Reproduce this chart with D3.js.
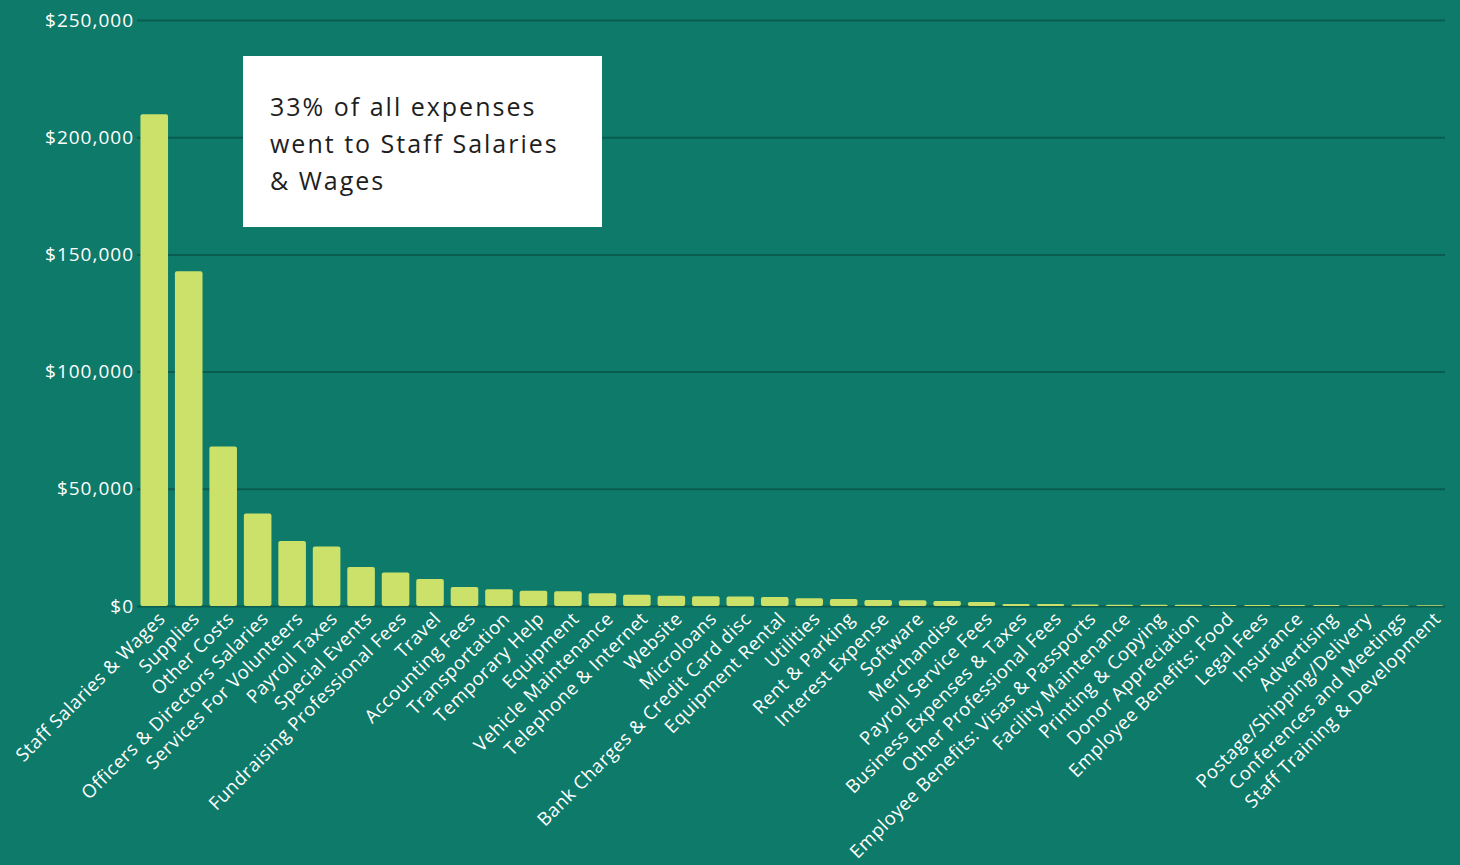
<!DOCTYPE html>
<html><head><meta charset="utf-8">
<script src="https://cdn.jsdelivr.net/npm/d3@7"></script>
<style>
html,body{margin:0;padding:0;background:#0e7a6a;}
svg{display:block;}
</style></head>
<body>
<svg id="chart" width="1460" height="865"></svg>
<script>
const categories = ["Staff Salaries & Wages","Supplies","Other Costs","Officers & Directors Salaries","Services For Volunteers","Payroll Taxes","Special Events","Fundraising Professional Fees","Travel","Accounting Fees","Transportation","Temporary Help","Equipment","Vehicle Maintenance","Telephone & Internet","Website","Microloans","Bank Charges & Credit Card disc","Equipment Rental","Utilities","Rent & Parking","Interest Expense","Software","Merchandise","Payroll Service Fees","Business Expenses & Taxes","Other Professional Fees","Employee Benefits: Visas & Passports","Facility Maintenance","Printing & Copying","Donor Appreciation","Employee Benefits: Food","Legal Fees","Insurance","Advertising","Postage/Shipping/Delivery","Conferences and Meetings","Staff Training & Development"];
const expenses = [209800,142800,68000,39500,27700,25400,16600,14300,11500,8100,7100,6500,6300,5400,4800,4400,4200,4000,3800,3300,3000,2600,2500,2100,1700,900,800,600,550,500,480,450,420,400,380,350,330,300];
const yTicks = [0,50000,100000,150000,200000,250000];
const noteLines = ["33% of all expenses","went to Staff Salaries","& Wages"];

const svg = d3.select("#chart");
const W=1460,H=865;
svg.append("rect").attr("width",W).attr("height",H).attr("fill","#0e7a6a");

const x = d3.scaleBand().domain(categories).range([137,1447]).paddingInner(0.2).paddingOuter(0.1);
const y = d3.scaleLinear().domain([0,250000]).range([606,20]);

// gridlines
const grid = svg.append("g").attr("transform","translate(137,0)")
  .call(d3.axisLeft(y).tickValues(yTicks).tickSize(-(1445-137)).tickFormat(""));
grid.select(".domain").remove();
grid.selectAll(".tick line").attr("stroke","#0a5c4f").attr("stroke-width",2);

// y labels
const yAx = svg.append("g").attr("transform","translate(134,0)")
  .call(d3.axisLeft(y).tickValues(yTicks).tickSize(0).tickPadding(0).tickFormat(d=>"$"+d3.format(",")(d)));
yAx.select(".domain").remove();
yAx.selectAll("text").attr("fill","#ffffff").attr("font-family","'Open Sans', sans-serif")
  .attr("font-size",19).attr("letter-spacing","1px").attr("dy","0.32em");

// bars
svg.append("g").selectAll("rect").data(categories).join("rect")
  .attr("x",d=>x(d)).attr("width",x.bandwidth())
  .attr("y",(d,i)=>y(expenses[i])).attr("height",(d,i)=>y(0)-y(expenses[i]))
  .attr("rx",2).attr("fill","#cbe16a");

// x labels
const xAx = svg.append("g").attr("transform","translate(0,606)")
  .call(d3.axisBottom(x).tickSize(0).tickPadding(0));
xAx.select(".domain").remove();
xAx.selectAll("text").attr("fill","#ffffff").attr("font-family","'Open Sans', sans-serif")
  .attr("font-size",18.5).attr("letter-spacing","0.5px").attr("text-anchor","end")
  .attr("dy",null).attr("y",0).attr("x",0)
  .attr("transform","translate(12,14) rotate(-45)");

// annotation box
svg.append("rect").attr("x",243).attr("y",56).attr("width",359).attr("height",171).attr("fill","#ffffff");
svg.append("g").selectAll("text").data(noteLines).join("text")
  .attr("x",270).attr("y",(d,i)=>116+i*37).text(d=>d)
  .attr("fill","#1e1e1e").attr("font-family","'Open Sans', sans-serif").attr("font-size",25)
  .attr("letter-spacing","2px");
</script>
</body></html>
